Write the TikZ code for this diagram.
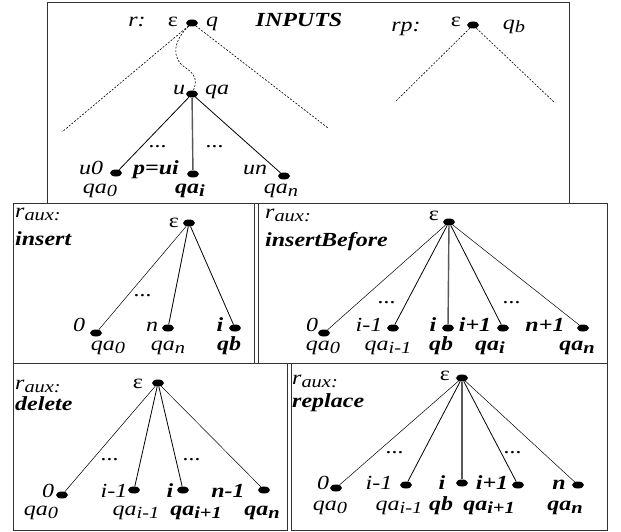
\documentclass[tikz,border=0pt]{standalone}
\usepackage{fontspec}
\setmainfont[FakeStretch=1.2]{Liberation Serif}
\usetikzlibrary{shapes.geometric}

\newcommand{\lblsize}{\fontsize{20}{22}\selectfont}
\newcommand{\lowr}[1]{\raisebox{-3pt}{\fontsize{17}{17}\selectfont #1}}

\tikzset{
    lbl/.style={anchor=base, inner sep=0pt, font=\lblsize\itshape},
    blbl/.style={anchor=base, inner sep=0pt, font=\lblsize\bfseries\itshape},
    ttl/.style={anchor=base west, inner sep=0pt, font=\lblsize\itshape},
    bttl/.style={anchor=base west, inner sep=0pt, font=\lblsize\bfseries\itshape},
    dot/.style={ellipse, fill=black, inner sep=0pt, minimum width=12pt, minimum height=7pt},
    edge/.style={line width=0.8pt},
    thinedge/.style={line width=0.5pt},
    stem/.style={line width=1.4pt, black!65},
    box/.style={line width=1pt, black!80},
    dashedge/.style={dashed, dash pattern=on 2pt off 1.5pt, line width=0.6pt}
}

\begin{document}
\begin{tikzpicture}[x=1pt, y=-1pt]

            \useasboundingbox (0,0) rectangle (621,532);

            \draw[box] (47,3) rectangle (569,203);
            \draw[box] (13,203) rectangle (254,363);
            \draw[box] (258,203) rectangle (607,363);
            \draw[box] (13,363) rectangle (287,530);
            \draw[box] (291,363) rectangle (607,530);

            \node[lbl] (rlab) at (137,27) {r:};
            \node[lbl] (reps) at (173,27) {\upshape ε};
            \node[dot] (r) at (192,23) {};
            \node[lbl] (rq) at (212,27) {q};
            \node[blbl] (inputs) at (299,27) {INPUTS};
            \coordinate (rl) at (62,132);
            \coordinate (rr) at (328,128);
            \draw[dashedge] (r) -- (rl);
            \draw[dashedge] (r) -- (rr);

            \node[dot] (u) at (192,94) {};
            \node[lbl] (ulab) at (179,95) {u};
            \node[lbl] (uqa) at (217,95) {qa};
            \draw[dashedge] (r) .. controls (174,40) and (170,58) .. (186,68) .. controls (198,76) and (196,84) .. (u);

            \node[dot] (u0) at (116,173) {};
            \node[dot] (ui) at (193,174) {};
            \node[dot] (un) at (284,176) {};
            \draw[edge] (u) -- (u0);
            \draw[stem] (u) -- (ui);
            \draw[edge] (u) -- (un);
            \node[lbl] (ud1) at (158,148) {...};
            \node[lbl] (ud2) at (215,148) {...};
            \node[lbl] (u0lab) at (91,175) {u0};
            \node[blbl] (uilab) at (156,175) {p=ui};
            \node[lbl] (unlab) at (255,175) {un};
            \node[lbl] (u0q) at (100,193) {qa\lowr{0}};
            \node[blbl] (uiq) at (190,193) {qa\lowr{i}};
            \node[lbl] (unq) at (281,193) {qa\lowr{n}};

            \node[lbl] (rplab) at (406,32) {rp:};
            \node[lbl] (rpeps) at (456,27) {\upshape ε};
            \node[dot] (rp) at (473,25) {};
            \node[lbl] (rpq) at (514,30) {q\lowr{b}};
            \coordinate (rpl) at (395,102);
            \coordinate (rpr) at (555,103);
            \draw[dashedge] (rp) -- (rpl);
            \draw[dashedge] (rp) -- (rpr);

            \node[ttl] (inslab) at (15,217) {r\lowr{aux:}};
            \node[bttl] (insname) at (15,245) {insert};
            \node[lbl] (inseps) at (174,227) {\upshape ε};
            \node[dot] (ins) at (189,223) {};
            \node[dot] (ins0) at (96,333) {};
            \node[dot] (insn) at (168,328) {};
            \node[dot] (insi) at (235,328) {};
            \draw[thinedge] (ins) -- (ins0);
            \draw[edge] (ins) -- (insn);
            \draw[edge] (ins) -- (insi);
            \node[lbl] (insd) at (143,296) {...};
            \node[lbl] (ins0lab) at (79,331) {0};
            \node[lbl] (insnlab) at (152,331) {n};
            \node[blbl] (insilab) at (220,331) {i};
            \node[lbl] (ins0q) at (108,350) {qa\lowr{0}};
            \node[lbl] (insnq) at (168,350) {qa\lowr{n}};
            \node[blbl] (insiq) at (229,350) {qb};

            \node[ttl] (iblab) at (265,218) {r\lowr{aux:}};
            \node[bttl] (ibname) at (265,246) {insertBefore};
            \node[lbl] (ibeps) at (434,220) {\upshape ε};
            \node[dot] (ib) at (449,222) {};
            \node[dot] (ib0) at (324,333) {};
            \node[dot] (ib1) at (393,328) {};
            \node[dot] (ib2) at (448,328) {};
            \node[dot] (ib3) at (503,328) {};
            \node[dot] (ib4) at (583,328) {};
            \draw[thinedge] (ib) -- (ib0);
            \draw[edge] (ib) -- (ib1);
            \draw[stem] (ib) -- (ib2);
            \draw[edge] (ib) -- (ib3);
            \draw[thinedge] (ib) -- (ib4);
            \node[lbl] (ibd1) at (387,303) {...};
            \node[lbl] (ibd2) at (512,303) {...};
            \node[lbl] (ib0lab) at (312,331) {0};
            \node[lbl] (ib1lab) at (369,331) {i-1};
            \node[blbl] (ib2lab) at (433,331) {i};
            \node[blbl] (ib3lab) at (475,331) {i+1};
            \node[blbl] (ib4lab) at (545,331) {n+1};
            \node[lbl] (ib0q) at (323,350) {qa\lowr{0}};
            \node[lbl] (ib1q) at (388,350) {qa\lowr{i-1}};
            \node[blbl] (ib2q) at (441,350) {qb};
            \node[blbl] (ib3q) at (490,350) {qa\lowr{i}};
            \node[blbl] (ib4q) at (577,350) {qa\lowr{n}};

            \node[ttl] (dellab) at (15,389) {r\lowr{aux:}};
            \node[bttl] (delname) at (15,410) {delete};
            \node[lbl] (deleps) at (138,388) {\upshape ε};
            \node[dot] (del) at (158,383) {};
            \node[dot] (del0) at (62,495) {};
            \node[dot] (del1) at (134,490) {};
            \node[dot] (del2) at (183,490) {};
            \node[dot] (del3) at (264,490) {};
            \draw[thinedge] (del) -- (del0);
            \draw[edge] (del) -- (del1);
            \draw[edge] (del) -- (del2);
            \draw[thinedge] (del) -- (del3);
            \node[lbl] (deld1) at (110,460) {...};
            \node[lbl] (deld2) at (192,460) {...};
            \node[lbl] (del0lab) at (48,497) {0};
            \node[lbl] (del1lab) at (114,497) {i-1};
            \node[blbl] (del2lab) at (170,497) {i};
            \node[blbl] (del3lab) at (228,497) {n-1};
            \node[lbl] (del0q) at (41,515) {qa\lowr{0}};
            \node[lbl] (del1q) at (136,515) {qa\lowr{i-1}};
            \node[blbl] (del2q) at (196,515) {qa\lowr{i+1}};
            \node[blbl] (del3q) at (262,515) {qa\lowr{n}};

            \node[ttl] (replab) at (292,384) {r\lowr{aux:}};
            \node[bttl] (repname) at (292,407) {replace};
            \node[lbl] (repeps) at (445,380) {\upshape ε};
            \node[dot] (rep) at (462,378) {};
            \node[dot] (rep0) at (336,488) {};
            \node[dot] (rep1) at (406,485) {};
            \node[dot] (rep2) at (462,483) {};
            \node[dot] (rep3) at (518,485) {};
            \node[dot] (rep4) at (578,485) {};
            \draw[thinedge] (rep) -- (rep0);
            \draw[edge] (rep) -- (rep1);
            \draw[stem] (rep) -- (rep2);
            \draw[edge] (rep) -- (rep3);
            \draw[thinedge] (rep) -- (rep4);
            \node[lbl] (repd1) at (395,453) {...};
            \node[lbl] (repd2) at (513,453) {...};
            \node[lbl] (rep0lab) at (323,489) {0};
            \node[lbl] (rep1lab) at (379,489) {i-1};
            \node[blbl] (rep2lab) at (442,489) {i};
            \node[blbl] (rep3lab) at (492,489) {i+1};
            \node[blbl] (rep4lab) at (559,489) {n};
            \node[lbl] (rep0q) at (330,510) {qa\lowr{0}};
            \node[lbl] (rep1q) at (399,510) {qa\lowr{i-1}};
            \node[blbl] (rep2q) at (441,510) {qb};
            \node[blbl] (rep3q) at (489,510) {qa\lowr{i+1}};
            \node[blbl] (rep4q) at (565,510) {qa\lowr{n}};

        \end{tikzpicture}
\end{document}
